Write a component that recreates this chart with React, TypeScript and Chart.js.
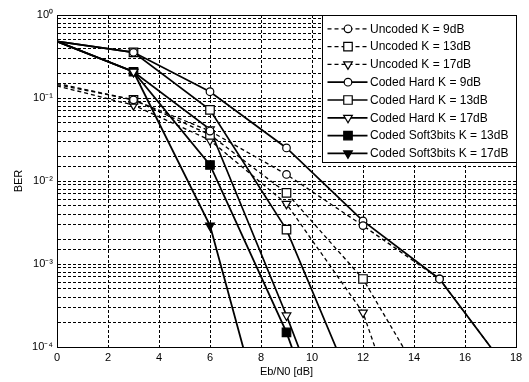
import React, { useEffect, useRef } from "react";
import { Chart, registerables } from "chart.js";

Chart.register(...registerables);

// ---------- data ----------
const ebn0 = [0, 3, 6, 9, 12, 15, 18];

const uncodedK9 = [0.15, 0.095, 0.04, 0.012, 0.0029, 0.00066, 3.9e-5];
const uncodedK13 = [0.145, 0.095, 0.036, 0.0072, 0.00066, 1.8e-5, null];
const uncodedK17 = [0.14, 0.082, 0.031, 0.0053, 0.00026, 5.5e-7, null];
const codedHardK9 = [0.48, 0.355, 0.119, 0.025, 0.0033, 0.00066, 3.9e-5];
const codedHardK13 = [0.48, 0.355, 0.072, 0.0026, 1.66e-5, null, null];
const codedHardK17 = [0.48, 0.207, 0.042, 0.00024, 9e-7, null, null];
const codedSoftK13 = [0.48, 0.207, 0.0156, 0.00015, 4e-7, null, null];
const codedSoftK17 = [0.48, 0.207, 0.0029, 1.2e-6, null, null, null];

const seriesNames = [
  "Uncoded K = 9dB",
  "Uncoded K = 13dB",
  "Uncoded K = 17dB",
  "Coded Hard K = 9dB",
  "Coded Hard K = 13dB",
  "Coded Hard K = 17dB",
  "Coded Soft3bits K = 13dB",
  "Coded Soft3bits K = 17dB",
];
const seriesValues = [
  uncodedK9,
  uncodedK13,
  uncodedK17,
  codedHardK9,
  codedHardK13,
  codedHardK17,
  codedSoftK13,
  codedSoftK17,
];

const xMin = 0;
const xMax = 18;
const xStep = 2;
const yMin = 1e-4;
const yMax = 1;
const xTitle = "Eb/N0 [dB]";
const yTitle = "BER";

// ---------- styles ----------
const FONT = "'Liberation Sans', Arial, Helvetica, sans-serif";
type Sty = { dash: number[]; width: number; point: string; rot: number; filled: boolean; r: number };
const styles: Sty[] = [
  { dash: [4, 3], width: 1.3, point: "circle", rot: 0, filled: false, r: 3.8 },
  { dash: [4, 3], width: 1.3, point: "rect", rot: 0, filled: false, r: 6 },
  { dash: [4, 3], width: 1.3, point: "triangle", rot: 180, filled: false, r: 5 },
  { dash: [], width: 1.7, point: "circle", rot: 0, filled: false, r: 3.8 },
  { dash: [], width: 1.7, point: "rect", rot: 0, filled: false, r: 6 },
  { dash: [], width: 1.7, point: "triangle", rot: 180, filled: false, r: 5 },
  { dash: [], width: 1.8, point: "rect", rot: 0, filled: true, r: 6 },
  { dash: [], width: 1.8, point: "triangle", rot: 180, filled: true, r: 5 },
];

const supMap: Record<string, string> = {
  "-": "\u207B",
  "0": "\u2070",
  "1": "\u00B9",
  "2": "\u00B2",
  "3": "\u00B3",
  "4": "\u2074",
  "5": "\u2075",
  "6": "\u2076",
  "7": "\u2077",
  "8": "\u2078",
  "9": "\u2079",
};

function drawMarker(ctx: CanvasRenderingContext2D, s: Sty, x: number, y: number) {
  ctx.save();
  ctx.setLineDash([]);
  ctx.lineWidth = 1.2;
  ctx.strokeStyle = "#000";
  ctx.fillStyle = s.filled ? "#000" : "#fff";
  ctx.beginPath();
  if (s.point === "circle") {
    ctx.arc(x, y, s.r, 0, Math.PI * 2);
  } else if (s.point === "rect") {
    const h = s.r * Math.SQRT1_2;
    ctx.rect(x - h, y - h, 2 * h, 2 * h);
  } else {
    let rad = (s.rot * Math.PI) / 180;
    ctx.moveTo(x + Math.sin(rad) * s.r, y - Math.cos(rad) * s.r);
    rad += (2 * Math.PI) / 3;
    ctx.lineTo(x + Math.sin(rad) * s.r, y - Math.cos(rad) * s.r);
    rad += (2 * Math.PI) / 3;
    ctx.lineTo(x + Math.sin(rad) * s.r, y - Math.cos(rad) * s.r);
    ctx.closePath();
  }
  ctx.fill();
  ctx.stroke();
  ctx.restore();
}

const frameAndLegend = {
  id: "frameAndLegend",
  afterDatasetsDraw(chart: any) {
    const ctx: CanvasRenderingContext2D = chart.ctx;
    const a = chart.chartArea;
    ctx.save();
    // full box around plot
    ctx.strokeStyle = "#000";
    ctx.lineWidth = 1;
    ctx.setLineDash([]);
    ctx.strokeRect(Math.round(a.left) + 0.5, Math.round(a.top) + 0.5, Math.round(a.right - a.left), Math.round(a.bottom - a.top));

    // legend
    const w = 194;
    const h = 147;
    const lx = Math.round(a.right - w) + 0.5;
    const ly = Math.round(a.top) + 0.5;
    ctx.fillStyle = "#fff";
    ctx.fillRect(lx, ly, w, h);
    ctx.strokeRect(lx, ly, w, h);
    ctx.font = `12px ${FONT}`;
    ctx.textBaseline = "middle";
    ctx.textAlign = "left";
    chart.data.datasets.forEach((ds: any, i: number) => {
      const s = styles[i];
      const y = ly + 13.3 + i * 17.8;
      ctx.save();
      ctx.strokeStyle = "#000";
      ctx.lineWidth = s.width;
      ctx.setLineDash(s.dash);
      ctx.beginPath();
      ctx.moveTo(lx + 5, y);
      ctx.lineTo(lx + 45, y);
      ctx.stroke();
      ctx.restore();
      drawMarker(ctx, s, lx + 25.5, y);
      ctx.fillStyle = "#000";
      ctx.fillText(ds.label, lx + 47.5, y + 0.5);
    });
    ctx.restore();
  },
};

export default function App() {
  const ref = useRef<HTMLCanvasElement | null>(null);

  useEffect(() => {
    if (!ref.current) return;
    const datasets = seriesValues.map((vals, i) => {
      const s = styles[i];
      return {
        label: seriesNames[i],
        data: ebn0.map((x, j) => ({ x, y: vals[j] })),
        borderColor: "#000",
        borderWidth: s.width,
        borderDash: s.dash,
        backgroundColor: s.filled ? "#000" : "#fff",
        pointBackgroundColor: s.filled ? "#000" : "#fff",
        pointBorderColor: "#000",
        pointBorderWidth: 1.2,
        pointStyle: s.point,
        pointRotation: s.rot,
        pointRadius: (c: any) => (c.dataIndex === 0 ? 0 : s.r),
        pointHoverRadius: (c: any) => (c.dataIndex === 0 ? 0 : s.r),
        fill: false,
        tension: 0,
        spanGaps: false,
        clip: 0,
      };
    });

    const gridOpts = { color: "#000", lineWidth: 1, drawTicks: false };
    const borderOpts = { display: true, color: "#000", width: 1, dash: [3, 2] };

    const chart = new Chart(ref.current, {
      type: "line",
      data: { datasets },
      plugins: [frameAndLegend],
      options: {
        animation: false,
        responsive: false,
        devicePixelRatio: 1,
        layout: { padding: { left: 0, right: 13, top: 15, bottom: 0 } },
        plugins: {
          legend: { display: false },
          tooltip: { enabled: false },
        },
        scales: {
          x: {
            type: "linear",
            min: xMin,
            max: xMax,
            afterFit: (sc: any) => {
              sc.height = 35;
            },
            ticks: {
              stepSize: xStep,
              autoSkip: false,
              padding: 4,
              color: "#000",
              font: { family: FONT, size: 11 },
              maxRotation: 0,
            },
            grid: gridOpts,
            border: borderOpts,
            title: {
              display: true,
              text: xTitle,
              color: "#000",
              font: { family: FONT, size: 11 },
              padding: { top: 0, bottom: 3 },
            },
          },
          y: {
            type: "logarithmic",
            min: yMin,
            max: yMax,
            afterFit: (sc: any) => {
              sc.width = 57;
            },
            ticks: {
              autoSkip: false,
              padding: 4,
              color: "#000",
              font: { family: FONT, size: 11 },
              callback: (v: any) => {
                const e = Math.log10(Number(v));
                const r = Math.round(e);
                if (Math.abs(e - r) > 1e-6) return "";
                return "10" + String(r).split("").map((c) => supMap[c]).join("");
              },
            },
            grid: gridOpts,
            border: borderOpts,
            title: {
              display: true,
              text: yTitle,
              color: "#000",
              font: { family: FONT, size: 11 },
              padding: { top: 12, bottom: 0 },
            },
          },
        },
      } as any,
    });

    return () => chart.destroy();
  }, []);

  return (
    <div style={{ position: "fixed", left: 0, top: 0, width: 529, height: 382, background: "#fff" }}>
      <canvas ref={ref} width={529} height={382} style={{ display: "block", width: 529, height: 382 }} />
    </div>
  );
}
